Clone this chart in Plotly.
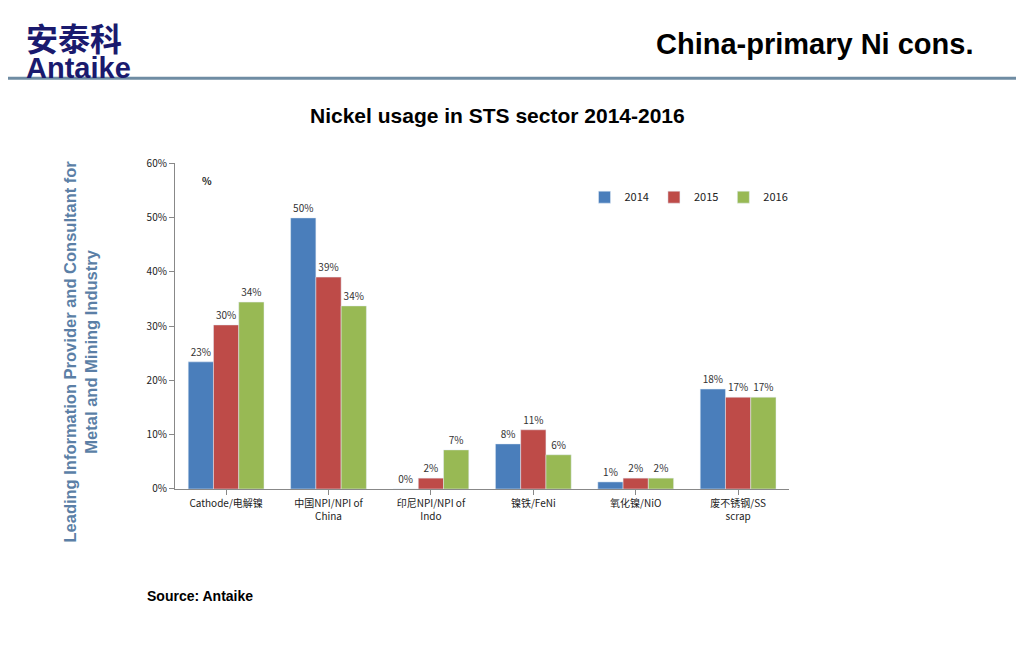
import plotly.graph_objects as go

categories = ["Cathode/电解镍", "中国NPI/NPI of<br>China", "印尼NPI/NPI of<br>Indo",
              "镍铁/FeNi", "氧化镍/NiO", "废不锈钢/SS<br>scrap"]
years = ["2014", "2015", "2016"]
values = {
    "2014": [0.234, 0.499, 0.0, 0.083, 0.013, 0.184],
    "2015": [0.302, 0.390, 0.020, 0.109, 0.020, 0.169],
    "2016": [0.344, 0.337, 0.072, 0.063, 0.020, 0.169],
}
labels = {
    "2014": ["23%", "50%", "0%", "8%", "1%", "18%"],
    "2015": ["30%", "39%", "2%", "11%", "2%", "17%"],
    "2016": ["34%", "34%", "7%", "6%", "2%", "17%"],
}
colors = {"2014": "#4a7ebb", "2015": "#be4b48", "2016": "#98b954"}

fig = go.Figure()
for y in years:
    fig.add_trace(go.Bar(x=categories, y=values[y], name=y, marker_color=colors[y],
                         text=labels[y], textposition="outside", cliponaxis=False,
                         textfont=dict(size=10, color="#333")))

fig.update_layout(
    width=1024, height=650, paper_bgcolor="white", plot_bgcolor="white",
    font=dict(family="Noto Sans CJK SC, Arial", size=10, color="#222"),
    barmode="group", bargap=0.26, bargroupgap=0,
    margin=dict(l=0, r=0, t=0, b=0, autoexpand=False),
    xaxis=dict(domain=[0.163, 0.763], showline=True, linecolor="#888",
               ticks="outside", tickcolor="#888", tickfont=dict(size=10), automargin=False),
    yaxis=dict(domain=[0.26, 0.7615], range=[0, 0.6], dtick=0.1, tickformat=".0%",
               showline=True, linecolor="#888", ticks="outside", tickcolor="#888",
               showgrid=False, zeroline=False, tickfont=dict(size=10), automargin=False),
    legend=dict(orientation="h", x=0.563, y=0.709, xanchor="left", yanchor="middle",
                font=dict(size=11), itemwidth=30, traceorder="normal"),
    shapes=[dict(type="line", xref="paper", yref="paper", x0=0, x1=1, y0=0.892, y1=0.892,
                 line=dict(color="#6f8ca3", width=3))],
    annotations=[
        dict(text="<b>安泰科</b>", x=0.016, y=0.956, xref="paper", yref="paper", showarrow=False,
             xanchor="left", yanchor="middle", font=dict(size=32, color="#1a1a6e")),
        dict(text="<b>Antaike</b>", x=0.016, y=0.908, xref="paper", yref="paper", showarrow=False,
             xanchor="left", yanchor="middle", font=dict(size=29, color="#1a1a6e", family="Arial")),
        dict(text="<b>China-primary Ni cons.</b>", x=0.944, y=0.945, xref="paper", yref="paper",
             showarrow=False, xanchor="right", yanchor="middle",
             font=dict(size=29, color="#000", family="Arial")),
        dict(text="<b>Nickel usage in STS sector 2014-2016</b>", x=0.478, y=0.834, xref="paper",
             yref="paper", showarrow=False, xanchor="center", yanchor="middle",
             font=dict(size=21, color="#000", family="Arial")),
        dict(text="<b>%</b>", x=0.194, y=0.734, xref="paper", yref="paper", showarrow=False,
             xanchor="center", yanchor="middle", font=dict(size=10)),
        dict(text="<b>Leading Information Provider and Consultant for<br>Metal and Mining Industry</b>",
             x=0.071, y=0.471, xref="paper", yref="paper", showarrow=False, textangle=-90,
             xanchor="center", yanchor="middle", font=dict(size=16.5, color="#5b7fa6", family="Arial")),
        dict(text="<b>Source: Antaike</b>", x=0.134, y=0.095, xref="paper", yref="paper",
             showarrow=False, xanchor="left", yanchor="middle",
             font=dict(size=14, color="#000", family="Arial")),
    ],
)
fig.write_html("out.html")
